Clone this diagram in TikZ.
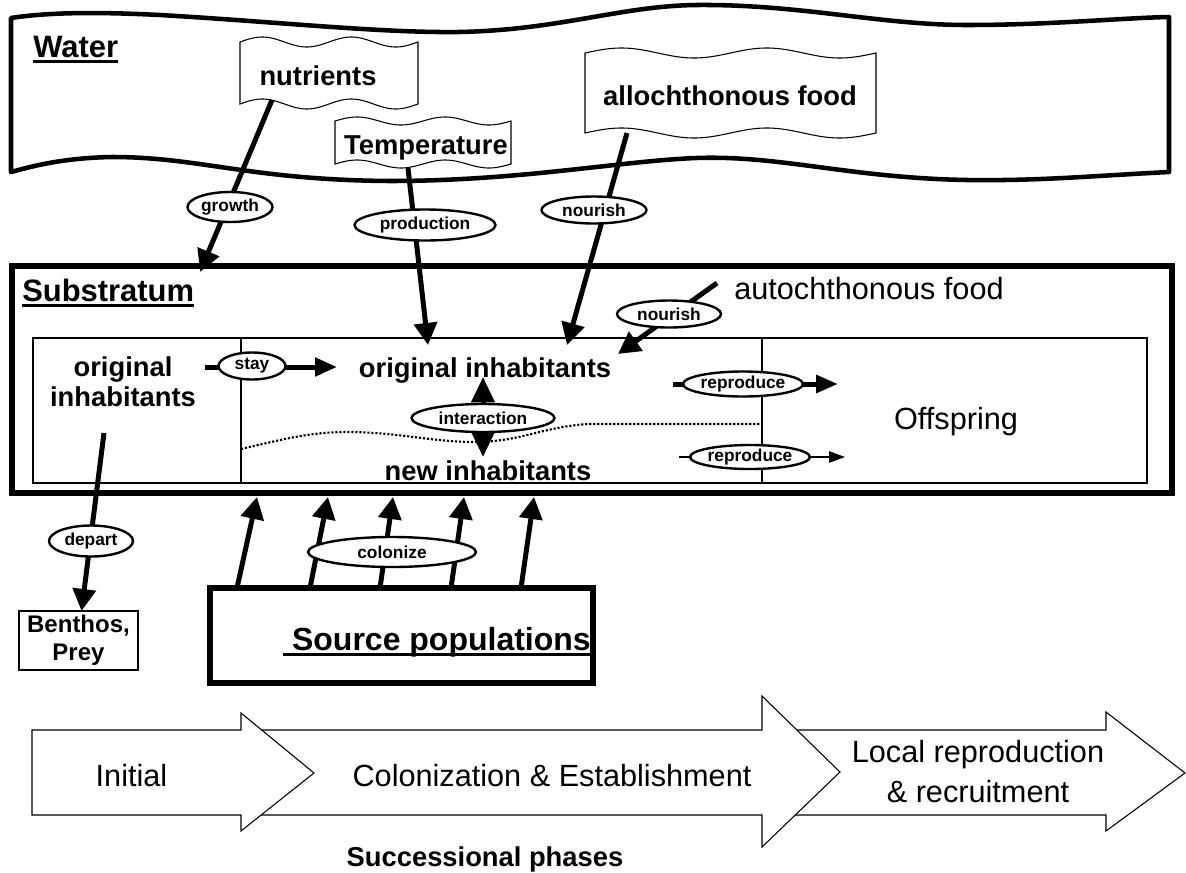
\documentclass[tikz,border=0pt]{standalone}
\usepackage{fontspec}
\setmainfont{Liberation Sans}
\usetikzlibrary{arrows.meta,shapes.geometric,calc}

\newcommand{\ulthick}[1]{\setbox0\hbox{#1}\rlap{\rule[-0.2em]{\wd0}{0.1em}}\box0}
\newcommand{\wavebanner}[5]{%
  \draw[banner] plot[domain=#1:#2,samples=61,smooth] (\x,{#3-#5*sin((\x-#1)/(#2-#1)*720)})
    -- plot[domain=#2:#1,samples=61,smooth] (\x,{#4-#5*sin((\x-#1)/(#2-#1)*720)}) -- cycle;}

\begin{document}
\begin{tikzpicture}[x=0.75pt,y=0.75pt,yscale=-1,
    heavybox/.style={draw, line width=4.1pt, inner sep=0pt, outer sep=0pt},
    banner/.style={draw, fill=white, line width=0.8pt},
    sectionlbl/.style={font=\bfseries\fontsize{23.2}{26}\selectfont, inner sep=0pt},
    itemlbl/.style={font=\bfseries\fontsize{20.5}{22.5}\selectfont, inner sep=0pt},
    plainlbl/.style={font=\fontsize{23}{30}\selectfont, inner sep=0pt},
    flow/.style={line width=3.75pt, -{Triangle[length=16.5pt,width=17pt]}},
    lbl/.style 2 args={ellipse, draw, fill=white, line width=1.8pt, inner sep=0pt,
      font=\bfseries\fontsize{13}{15}\selectfont,
      minimum width={#1*0.75pt}, minimum height={#2*0.75pt}},
    phase/.style={draw, fill=white, line width=0.8pt, line join=miter}]
\useasboundingbox (0,0) rectangle (1186,872);

\draw [line width=3.4pt, line join=round] (11,18) .. controls (50,12) and (100,12) .. (160,15) .. controls (280,22) and (380,33) .. (459,32) .. controls (560,30) and (620,6) .. (696,5) .. controls (800,4) and (880,25) .. (967,25) .. controls (1050,25) and (1120,18) .. (1169,17) -- (1169,172) .. controls (1090,176) and (1040,181) .. (967,180) .. controls (850,178) and (780,155) .. (696,158) .. controls (620,161) and (520,181) .. (390,181) .. controls (250,180) and (200,157) .. (112,157) .. controls (60,158) and (30,167) .. (11,172) -- cycle;
\node [sectionlbl, anchor=base west] (water) at (33,57) {\ulthick{Water}};

\wavebanner{240}{418}{42}{104}{5}
\wavebanner{335}{511}{121}{164}{4}
\wavebanner{585}{876}{53}{133}{5}
\node [itemlbl, anchor=base] (nutr) at (318,85) {nutrients};
\node [itemlbl, anchor=base] (temp) at (426,154) {Temperature};
\node [itemlbl, anchor=base] (allo) at (730,105) {allochthonous food};

\node [heavybox, minimum width={1160*0.75pt}, minimum height={227*0.75pt}] (sub) at (592,379.5) {};
\node [sectionlbl, anchor=base west] (sublbl) at (22,301) {\ulthick{Substratum}};
\node [plainlbl, anchor=base west] (auto) at (734,299) {autochthonous food};
\node [draw, line width=1.5pt, inner sep=0pt, outer sep=0pt, minimum width={1114*0.75pt}, minimum height={145*0.75pt}] (inner) at (590,410.5) {};
\draw [line width=0.8pt] ($(inner.north west)+(208,0)$) -- ($(inner.south west)+(208,0)$);
\draw [line width=0.8pt] ($(inner.north west)+(729,0)$) -- ($(inner.south west)+(729,0)$);
\draw [line width=1.6pt, dash pattern=on 1.6pt off 1.4pt] (241,449) .. controls (280,440) and (310,432) .. (345,432) .. controls (400,432) and (430,442) .. (475,442) .. controls (520,442) and (545,426) .. (590,424) -- (762,424);

\node [itemlbl, align=center] (oldleft) at (123,382) {original\\inhabitants};
\node [itemlbl, anchor=base] (oldin) at (485,377) {original inhabitants};
\node [itemlbl, anchor=base] (newin) at (488,480) {new inhabitants};
\node [plainlbl, anchor=base] (offs) at (956,429) {Offspring};

\node [heavybox, minimum width={383*0.75pt}, minimum height={95*0.75pt}] (src) at (401.5,635.5) {};
\node [font=\bfseries\fontsize{24}{28}\selectfont, inner sep=0pt, anchor=base] (srclbl) at (437,650) {\ulthick{\ Source populations}};
\node [draw, line width=1.2pt, inner sep=0pt, outer sep=0pt, minimum width={119*0.75pt}, minimum height={59*0.75pt}, align=center, font=\bfseries\fontsize{18}{21}\selectfont] (benthos) at (78.5,640.5) {Benthos,\\Prey};

\coordinate (nutrout) at (272,100);
\coordinate (tempout) at (408,168);
\coordinate (alloout) at (627,133);
\coordinate (autoout) at (717,283);
\coordinate (prodin) at (428,345);
\coordinate (nourin) at (567,345);
\coordinate (autoin) at (618,354);
\coordinate (stayout) at (205,367);
\coordinate (stayin) at (337,367);
\coordinate (intertop) at (483,377);
\coordinate (interbot) at (483,457);
\coordinate (repout) at (673,384);
\coordinate (repin) at (838,384);
\coordinate (newout) at (679,457);
\coordinate (newin2) at (845,457);
\coordinate (departout) at (104,433);

\draw [flow] (nutrout) -- ($(sub.north west)+(188,6)$);
\draw [flow] (tempout) -- (prodin);
\draw [flow] (alloout) -- (nourin);
\draw [flow] (autoout) -- (autoin);
\draw [flow, -{Triangle[length=16.5pt,width=13.5pt]}] (stayout) -- (stayin);
\draw [flow, {Triangle[length=19pt,width=17pt]}-{Triangle[length=19pt,width=17pt]}] (intertop) -- (interbot);
\draw [flow, -{Triangle[length=16.5pt,width=13pt]}] (repout) -- (repin);
\draw [line width=1.3pt, -{Triangle[length=12pt,width=8.5pt]}] (newout) -- (newin2);
\draw [flow] (departout) -- ($(benthos.north)+(3,0)$);
\foreach \s/\t in {27/245,100/316,170/381,241/452,311/522}
  \draw [flow] ($(src.north west)+(\s,0)$) -- ($(sub.south west)+(\t,4)$);

\node [lbl={85}{30}] (growth) at (230,207) {growth};
\node [lbl={141}{31}] (prod) at (425,225) {production};
\node [lbl={105}{27}] (nour1) at (594,210) {nourish};
\node [lbl={104}{27}] (nour2) at (669,314) {nourish};
\node [lbl={67}{27}] (stay) at (252,366) {stay};
\node [lbl={143}{28}] (inter) at (483,418) {interaction};
\node [lbl={109}{25}] (repr1) at (743,384) {reproduce};
\node [lbl={105}{24}] (repr2) at (750,457) {reproduce};
\node [lbl={84}{31}] (depart) at (91,541) {depart};
\node [lbl={168}{30}] (colon) at (392,552) {colonize};

\draw [phase] (775,730) -- (1106,730) -- (1106,712) -- (1185,773) -- (1106,831) -- (1106,815) -- (775,815) -- cycle;
\draw [phase] (250,730) -- (762,730) -- (762,696) -- (840,772) -- (762,847) -- (762,815) -- (250,815) -- cycle;
\draw [phase] (32,730) -- (241,730) -- (241,713) -- (314,773) -- (241,831) -- (241,815) -- (32,815) -- cycle;
\node [plainlbl, anchor=base] (ph1) at (131.5,786) {Initial};
\node [plainlbl, anchor=base] (ph2) at (552,786) {Colonization \& Establishment};
\node [plainlbl, align=center] (ph3) at (978,771.5) {Local reproduction\\\& recruitment};
\node [itemlbl, anchor=base] (phases) at (485,866) {Successional phases};
\end{tikzpicture}
\end{document}
